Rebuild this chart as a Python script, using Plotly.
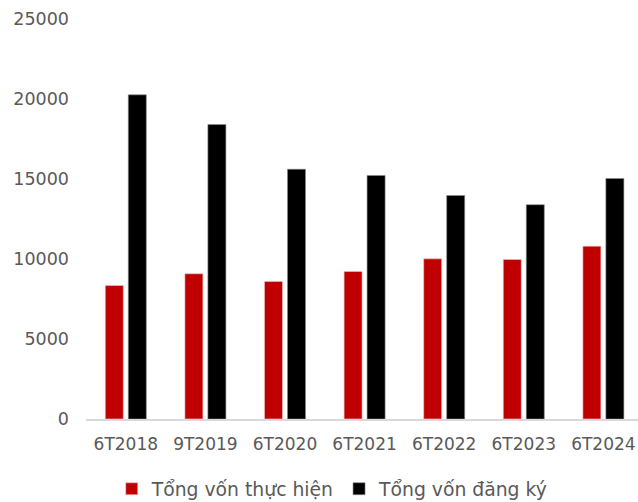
import plotly.graph_objects as go

# Categories (period labels) and series values
periods = ["6T2018", "9T2019", "6T2020", "6T2021", "6T2022", "6T2023", "6T2024"]
von_thuc_hien = [8340, 9080, 8600, 9220, 10010, 9970, 10800]
von_dang_ky = [20260, 18400, 15610, 15220, 13970, 13390, 15030]
y_ticks = [0, 5000, 10000, 15000, 20000, 25000]

FONT = "DejaVu Sans"
GRAY = "#595959"

fig = go.Figure()
fig.add_trace(go.Bar(
    x=periods, y=von_thuc_hien, name="Tổng vốn thực hiện",
    marker=dict(color="#C00000", line=dict(color="#f2c4c4", width=0.6)),
))
fig.add_trace(go.Bar(
    x=periods, y=von_dang_ky, name="Tổng vốn đăng ký",
    marker=dict(color="#000000", line=dict(color="#8a8a8a", width=0.6)),
))

fig.update_layout(
    width=638, height=502,
    margin=dict(l=86, r=0, t=19, b=83, autoexpand=False),
    paper_bgcolor="white", plot_bgcolor="white",
    barmode="group", bargap=0.422, bargroupgap=0.217,
    font=dict(family=FONT, size=17, color=GRAY),
    showlegend=True,
    legend=dict(
        orientation="h", x=0.447, xanchor="center", y=-0.175, yanchor="middle",
        font=dict(family=FONT, size=18.8, color=GRAY),
        itemwidth=30, traceorder="normal",
    ),
)
fig.update_xaxes(
    range=[-0.5, 6.435], showgrid=False, showline=True,
    linecolor="#d9d9d9", linewidth=1.5, ticks="",
    ticklabelstandoff=9, automargin=False,
    tickfont=dict(family=FONT, size=17, color=GRAY),
)
fig.update_yaxes(
    range=[0, 25000], tickvals=y_ticks, ticktext=[str(v) for v in y_ticks],
    showgrid=False, zeroline=False, showline=False, ticks="",
    ticklabelstandoff=16, automargin=False,
    tickfont=dict(family=FONT, size=17.5, color=GRAY),
)

fig.write_html("out.html")
